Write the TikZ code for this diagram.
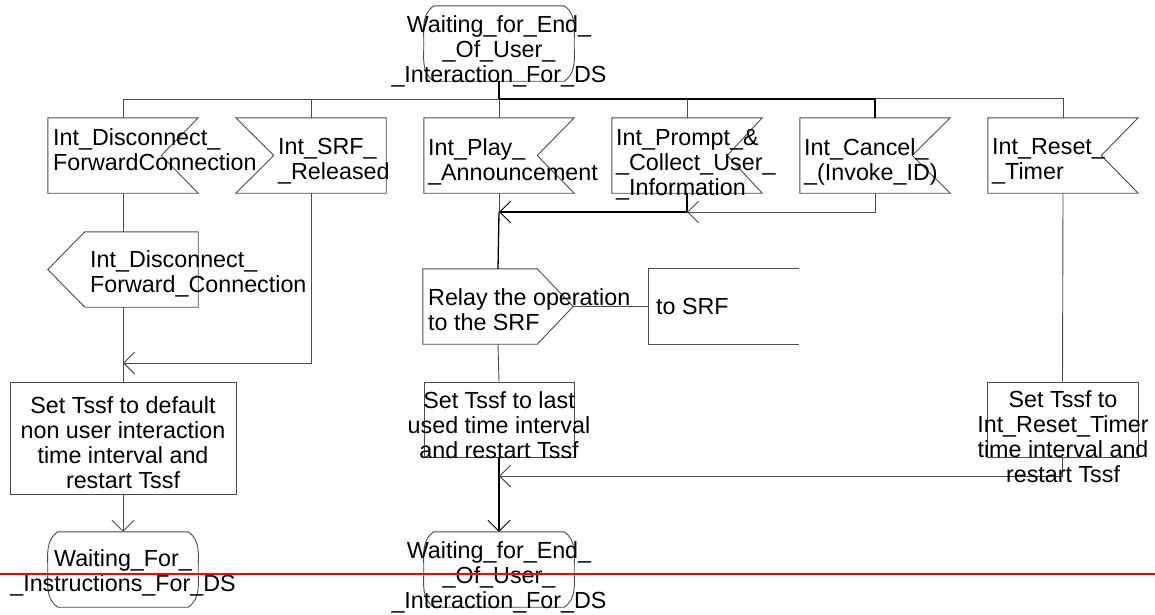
\documentclass[tikz,border=0pt]{standalone}
\usepackage{fontspec}
\setmainfont{Liberation Sans}
\usetikzlibrary{arrows.meta}
\newcommand\insymR[2]{\draw[shapeline] (#1.north west) -- (#1.north east) -- ([xshift=-#2]#1.east) -- (#1.south east) -- (#1.south west) -- cycle;}
\newcommand\insymL[2]{\draw[shapeline] (#1.north west) -- (#1.north east) -- (#1.south east) -- (#1.south west) -- ([xshift=#2]#1.west) -- cycle;}
\newcommand\outsymL[2]{\draw[shapeline] ([xshift=#2]#1.north west) -- (#1.north east) -- (#1.south east) -- ([xshift=#2]#1.south west) -- (#1.west) -- cycle;}
\newcommand\outsymR[2]{\draw[shapeline] (#1.north west) -- ([xshift=-#2]#1.north east) -- (#1.east) -- ([xshift=-#2]#1.south east) -- (#1.south west) -- cycle;}
\newcommand\statesym[1]{\draw[shapeline] ([xshift=10]#1.north west) -- ([xshift=-10]#1.north east) to[out=-35,in=90] (#1.east) to[out=-90,in=35] ([xshift=-10]#1.south east) -- ([xshift=10]#1.south west) to[out=145,in=-90] (#1.west) to[out=90,in=-145] ([xshift=10]#1.north west) -- cycle;}
\begin{document}
\begin{tikzpicture}[x=1pt,y=-1pt,
  geo/.style={draw=none,inner sep=0pt,minimum height=75pt,minimum width=150pt},
  task/.style={draw=black!70,line width=0.9pt,inner sep=0pt,minimum height=75pt,minimum width=150pt},
  shapeline/.style={draw=black!70,line width=0.9pt},
  conn/.style={draw=black!70,line width=0.9pt},
  mainconn/.style={draw=black,line width=1.3pt},
  arr/.style={-{Straight Barb[length=11pt,width=22pt,line width=0.9pt]}},
  txtL/.style={font=\fontsize{23.3}{25}\selectfont,inner sep=0pt,align=left,anchor=north west},
  txtC/.style={font=\fontsize{23.3}{25}\selectfont,inner sep=0pt,align=center,anchor=north}]
\useasboundingbox (0,0) rectangle (1155,614);
\fill[white] (0,0) rectangle (1155,614);

% geometry
\node[geo] (s0) at (499,43.5) {};
\node[geo] (iDis) at (123,155.5) {};
\node[geo] (iSrf) at (311,155.5) {};
\node[geo] (iPlay) at (499,155.5) {};
\node[geo] (iPrompt) at (687,155.5) {};
\node[geo] (iCancel) at (875,155.5) {};
\node[geo] (iReset) at (1063,155.5) {};
\node[geo] (oDis) at (123,269.5) {};
\node[geo] (oRelay) at (498,306.5) {};
\node[geo] (cSrf) at (724,306.5) {};
\node[task,minimum width=226pt,minimum height=112pt] (tL) at (123,438) {};
\node[task] (tM) at (499,419.5) {};
\node[task,minimum width=151pt] (tR) at (1062.5,419.5) {};
\node[geo] (sL) at (123,569.5) {};
\node[geo] (sM) at (499,569.5) {};

\statesym{s0}
\insymR{iDis}{37}
\insymL{iSrf}{38}
\insymR{iPlay}{37}
\insymR{iPrompt}{35}
\insymR{iCancel}{38}
\insymR{iReset}{37}
\outsymL{oDis}{37}
\outsymR{oRelay}{36}
\draw[shapeline] (cSrf.north east) -- (cSrf.north west) -- (cSrf.south west) -- (cSrf.south east);
\statesym{sL}
\statesym{sM}

% junction coordinates
\coordinate (bus) at (499,99);
\coordinate (jL) at (123,363);
\coordinate (jM) at (499,212);
\coordinate (jP) at (687,212);
\coordinate (jB) at (499,476);

% connectors
\draw[mainconn] (s0.south) -- (bus);
\draw[conn] (iDis.north) |- (bus);
\draw[mainconn] (bus) -| (iCancel.north);
\draw[conn] (iCancel.north) ++(0,-19) -| (iReset.north);
\draw[conn] (iSrf.north) -- ++(0,-19);
\draw[conn] (iPlay.north) -- ++(0,-19);
\draw[conn] (iPrompt.north) -- ++(0,-19);

\draw[conn] (iDis.south) -- (oDis.north);
\draw[conn] (oDis.south) -- (tL.north);
\draw[conn,arr] (iSrf.south) |- (jL);
\draw[conn,arr] (tL.south) -- (sL.north);

\draw[conn] (iPlay.south) -- (jM);
\draw[mainconn] (jM) -- (oRelay.north);
\draw[mainconn,arr] (iPrompt.south) |- (jM);
\draw[conn,arr] (iCancel.south) |- (jP);
\draw[conn] (oRelay.east) -- (cSrf.west);
\draw[conn] (oRelay.south) -- (tM.north);
\draw[mainconn,arr] (tM.south) -- (sM.north);
\draw[conn] (iReset.south) -- (tR.north);
\draw[conn,arr] (tR.south) |- (jB);

% texts
\node[txtC] (s0t) at (499,15.4) {Waiting\_for\_End\_\\\_Of\_User\_\\\_Interaction\_For\_DS};
\node[txtL] (iDist) at (53,128.4) {Int\_Disconnect\_\\ForwardConnection};
\node[txtL] (iSrft) at (278,138.4) {Int\_SRF\_\\\_Released};
\node[txtL] (iPlayt) at (428,138.4) {Int\_Play\_\\\_Announcement};
\node[txtL] (iPromptt) at (616,129.4) {Int\_Prompt\_\&\\\_Collect\_User\_\\\_Information};
\node[txtL] (iCancelt) at (804,138.4) {Int\_Cancel\_\\\_(Invoke\_ID)};
\node[txtL] (iResett) at (992,138.4) {Int\_Reset\_\\\_Timer};
\node[txtL] (oDist) at (90,250.4) {Int\_Disconnect\_\\Forward\_Connection};
\node[txtL] (oRelayt) at (428,288.4) {Relay the operation\\to the SRF};
\node[txtL] (cSrft) at (656,298.4) {to SRF};
\node[txtC] (tLt) at (123,396.4) {Set Tssf to default\\non user interaction\\time interval and\\restart Tssf};
\node[txtC] (tMt) at (499,391.4) {Set Tssf to last\\used time interval\\and restart Tssf};
\node[txtC] (tRt) at (1063,390.4) {Set Tssf to\\Int\_Reset\_Timer\\time interval and\\restart Tssf};
\node[txtC] (sLt) at (123,549.4) {Waiting\_For\_\\\_Instructions\_For\_DS};
\node[txtC] (sMt) at (499,541.4) {Waiting\_for\_End\_\\\_Of\_User\_\\\_Interaction\_For\_DS};

\draw[red,line width=2pt] (0,574) -- (1155,574);
\end{tikzpicture}
\end{document}
